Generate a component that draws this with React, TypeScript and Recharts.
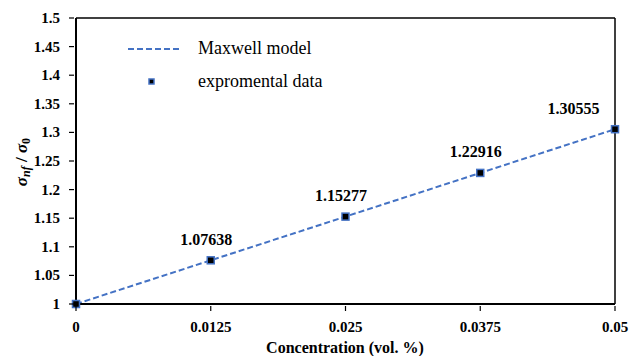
import {
  ComposedChart,
  Line,
  Scatter,
  XAxis,
  YAxis,
  ReferenceLine,
  LabelList,
} from 'recharts';

const concentrations = [0, 0.0125, 0.025, 0.0375, 0.05];
const maxwellModel = [1, 1.07638, 1.15277, 1.22916, 1.30555];
const experimental = [1, 1.07638, 1.15277, 1.22916, 1.30555];
const pointLabels = ['', '1.07638', '1.15277', '1.22916', '1.30555'];
const xTicks = ['0', '0.0125', '0.025', '0.0375', '0.05'];
const yTicks = [1, 1.05, 1.1, 1.15, 1.2, 1.25, 1.3, 1.35, 1.4, 1.45, 1.5];

const data = concentrations.map((c, i) => ({
  x: c,
  model: maxwellModel[i],
  exp: experimental[i],
  label: pointLabels[i],
}));

const font = 'Liberation Serif';
const blue = '#4472C4';

const XTick = (props: any) => {
  const { x, y, payload } = props;
  const i = concentrations.indexOf(payload.value);
  return (
    <g>
      <line x1={x} x2={x} y1={y - 1} y2={y - 6} stroke="#000" strokeWidth={1.2} />
      <text x={x} y={y + 20} textAnchor="middle" fontFamily={font} fontWeight="bold" fontSize={15} fill="#000">
        {xTicks[i] ?? payload.value}
      </text>
    </g>
  );
};

const YTick = (props: any) => {
  const { x, y, payload } = props;
  return (
    <g>
      <line x1={x + 1} x2={x + 6} y1={y} y2={y} stroke="#000" strokeWidth={1.2} />
      <text x={x - 8} y={y + 5} textAnchor="end" fontFamily={font} fontWeight="bold" fontSize={15} fill="#000">
        {String(payload.value)}
      </text>
    </g>
  );
};

const Square = (props: any) => {
  const { cx, cy } = props;
  return <rect x={cx - 3.5} y={cy - 3.5} width={7} height={7} fill="#000" stroke={blue} strokeWidth={1.5} />;
};

const PointLabel = (props: any) => {
  const { x, y, value, index } = props;
  if (!value) return null;
  const last = index === concentrations.length - 1;
  return (
    <text x={last ? x - 37 : x} y={y - 11} textAnchor="middle" fontFamily={font} fontWeight="bold" fontSize={16} fill="#000">
      {value}
    </text>
  );
};

export default function App() {
  return (
    <div style={{ position: 'absolute', left: 0, top: 0, width: 629, height: 356, background: '#fff', fontFamily: font }}>
      <ComposedChart
        width={629}
        height={356}
        data={data}
        margin={{ top: 18, right: 14, bottom: 51, left: 75 }}
      >
        <XAxis
          dataKey="x"
          type="number"
          domain={[0, 0.05]}
          ticks={concentrations}
          tick={<XTick />}
          tickLine={false}
          axisLine={{ stroke: '#000', strokeWidth: 2 }}
          interval={0}
          height={1}
        />
        <YAxis
          type="number"
          domain={[1, 1.5]}
          ticks={yTicks}
          tick={<YTick />}
          tickLine={false}
          axisLine={{ stroke: '#000', strokeWidth: 2 }}
          interval={0}
          width={1}
        />
        <ReferenceLine y={1.5} stroke="#000" strokeWidth={1.5} ifOverflow="visible" />
        <ReferenceLine x={0.05} stroke="#000" strokeWidth={1.5} ifOverflow="visible" />
        <Line
          dataKey="model"
          stroke={blue}
          strokeWidth={2}
          strokeDasharray="6 3"
          dot={false}
          activeDot={false}
          isAnimationActive={false}
        />
        <Scatter dataKey="exp" shape={<Square />} isAnimationActive={false}>
          <LabelList dataKey="label" content={<PointLabel />} />
        </Scatter>
        <text
          transform="translate(27 162) rotate(-90)"
          textAnchor="middle"
          fontFamily={font}
          fontWeight="bold"
          fontStyle="italic"
          fontSize={17}
          fill="#000"
        >
          σ<tspan fontSize={12} dy={3}>nf</tspan>
          <tspan dy={-3} fontStyle="normal"> / </tspan>σ<tspan fontSize={12} dy={3} fontStyle="normal">0</tspan>
        </text>
        <text x={345} y={353} textAnchor="middle" fontFamily={font} fontWeight="bold" fontSize={16} fill="#000">
          Concentration (vol. %)
        </text>
      </ComposedChart>
      <div style={{ position: 'absolute', left: 100, top: 20 }}>
        <svg width={240} height={75} style={{ display: 'block' }}>
          <line x1={28} x2={81} y1={29} y2={29} stroke={blue} strokeWidth={2} strokeDasharray="6 3" />
          <text x={98} y={34} fontFamily={font} fontSize={18} fill="#000">Maxwell model</text>
          <rect x={49} y={59} width={5} height={5} fill="#000" stroke={blue} strokeWidth={1.5} />
          <text x={98} y={67} fontFamily={font} fontSize={18} fill="#000">expromental data</text>
        </svg>
      </div>
    </div>
  );
}
